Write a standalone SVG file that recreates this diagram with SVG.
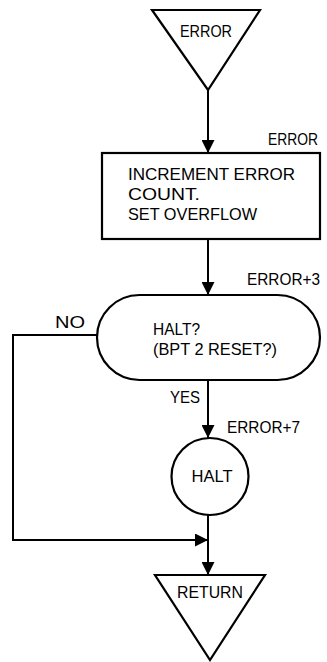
<svg xmlns="http://www.w3.org/2000/svg" width="327" height="662" viewBox="0 0 327 662">
<style>
.s{fill:#fff;stroke:#000;stroke-width:2.2}
.l{fill:none;stroke:#000;stroke-width:2}
text{font-family:"Liberation Sans",Arial,sans-serif;font-size:16.5px;fill:#000}
.m{text-anchor:middle}
.e{text-anchor:end}
</style>
<defs>
<marker id="a" markerWidth="13" markerHeight="13" refX="13" refY="6.5" orient="auto" markerUnits="userSpaceOnUse">
<path d="M0,0 L13,6.5 L0,13 Z" fill="#000"/>
</marker>
</defs>
<rect width="327" height="662" fill="#fff"/>
<g id="connectors">
<line class="l" x1="208" y1="90" x2="208" y2="153" marker-end="url(#a)"/>
<line class="l" x1="208" y1="239" x2="208" y2="295" marker-end="url(#a)"/>
<line class="l" x1="208" y1="380" x2="208" y2="438" marker-end="url(#a)"/>
<line class="l" x1="208" y1="515" x2="208" y2="575" marker-end="url(#a)"/>
<polyline class="l" points="97,335 13,335 13,540 208,540" marker-end="url(#a)"/>
<text x="55" y="328" textLength="30" lengthAdjust="spacingAndGlyphs">NO</text>
<text x="170" y="403" textLength="30" lengthAdjust="spacingAndGlyphs">YES</text>
</g>
<g id="error">
<polygon class="s" points="152,10 260,10 208,90"/>
<text class="m" x="206" y="37" textLength="52" lengthAdjust="spacingAndGlyphs">ERROR</text>
</g>
<g id="increment">
<rect class="s" x="102" y="153" width="218" height="86"/>
<text class="e" x="318" y="145" textLength="50" lengthAdjust="spacingAndGlyphs">ERROR</text>
<text x="128" y="180" textLength="167" lengthAdjust="spacingAndGlyphs">INCREMENT ERROR</text>
<text x="128" y="200" textLength="72" lengthAdjust="spacingAndGlyphs">COUNT.</text>
<text x="128" y="220" textLength="129" lengthAdjust="spacingAndGlyphs">SET OVERFLOW</text>
</g>
<g id="halt-test">
<rect class="s" x="97" y="295" width="223" height="85" rx="42.5" ry="42.5"/>
<text x="247" y="285" textLength="73" lengthAdjust="spacingAndGlyphs">ERROR+3</text>
<text x="153" y="335" textLength="47" lengthAdjust="spacingAndGlyphs">HALT?</text>
<text x="153" y="355" textLength="124" lengthAdjust="spacingAndGlyphs">(BPT 2 RESET?)</text>
</g>
<g id="halt">
<circle class="s" cx="210" cy="476.5" r="38.5"/>
<text x="227" y="433" textLength="73" lengthAdjust="spacingAndGlyphs">ERROR+7</text>
<text class="m" x="212" y="482" textLength="41" lengthAdjust="spacingAndGlyphs">HALT</text>
</g>
<g id="return">
<polygon class="s" points="155,575 265,575 210,660"/>
<text class="m" x="210" y="598" textLength="66" lengthAdjust="spacingAndGlyphs">RETURN</text>
</g>
</svg>
